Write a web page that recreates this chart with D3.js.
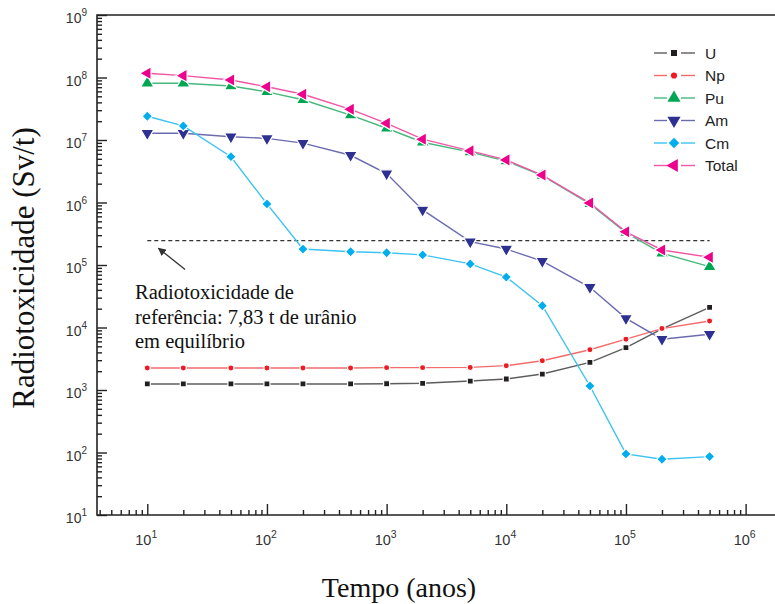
<!DOCTYPE html>
<html>
<head>
<meta charset="utf-8">
<script src="https://cdn.jsdelivr.net/npm/d3@7"></script>
<style>
  body { margin: 0; background: #fff; }
  svg { display: block; }
</style>
</head>
<body>
<div id="mychart"></div>
<script>
// data
var years = [10, 20, 50, 100, 200, 500, 1000, 2000, 5000, 1e4, 2e4, 5e4, 1e5, 2e5, 5e5];

var uValues     = [1250, 1250, 1250, 1250, 1250, 1250, 1260, 1280, 1390, 1500, 1800, 2770, 4750, 9500, 21000];
var npValues    = [2250, 2250, 2250, 2250, 2250, 2250, 2280, 2280, 2300, 2450, 2940, 4400, 6500, 9600, 12700];
var puValues    = [8.1e7, 8.1e7, 7.3e7, 5.9e7, 4.4e7, 2.5e7, 1.54e7, 9.2e6, 6.4e6, 4.6e6, 2.7e6, 9.5e5, 3.3e5, 1.54e5, 9.4e4];
var amValues    = [1.28e7, 1.28e7, 1.13e7, 1.06e7, 8.9e6, 5.7e6, 2.9e6, 7.6e5, 2.36e5, 1.8e5, 1.15e5, 4.4e4, 1.4e4, 6.5e3, 7.8e3];
var cmValues    = [2.4e7, 1.68e7, 5.4e6, 9.5e5, 1.8e5, 1.63e5, 1.57e5, 1.45e5, 1.04e5, 6.4e4, 2.23e4, 1160, 95, 78, 86];
var totalValues = [1.17e8, 1.07e8, 9.1e7, 7.1e7, 5.4e7, 3.1e7, 1.85e7, 1.03e7, 6.7e6, 4.8e6, 2.75e6, 9.8e5, 3.4e5, 1.74e5, 1.33e5];

var seriesNames = ["U", "Np", "Pu", "Am", "Cm", "Total"];
var referenceLevel = 2.45e5;   // 7,83 t de urânio em equilíbrio
var arrowFrom = [20.7, 8.5e4], arrowTo = [12.4, 1.85e5];

var xMajor = [10, 100, 1000, 1e4, 1e5, 1e6];
var yMajor = [10, 100, 1000, 1e4, 1e5, 1e6, 1e7, 1e8, 1e9];

var series = [
  {name: "U",     values: uValues,     line: "#5d5d5f", fill: "#231f20", shape: "square"},
  {name: "Np",    values: npValues,    line: "#f26b6b", fill: "#ed1c24", shape: "circle"},
  {name: "Pu",    values: puValues,    line: "#45b97c", fill: "#00a651", shape: "up"},
  {name: "Am",    values: amValues,    line: "#6b6bb0", fill: "#2e3192", shape: "down"},
  {name: "Cm",    values: cmValues,    line: "#3cc3f2", fill: "#00aeef", shape: "diamond"},
  {name: "Total", values: totalValues, line: "#f056a6", fill: "#ec008c", shape: "left"}
];

var W = 775, H = 604;
var plot = {left: 97, right: 775, top: 15, bottom: 515};

var svg = d3.select("#mychart")
  .append("svg")
    .attr("width", W)
    .attr("height", H);

var x = d3.scaleLog()
  .domain([3.8, 1.76e6])
  .range([plot.left, plot.right]);
var y = d3.scaleLog()
  .domain([10, 1e9])
  .range([plot.bottom, plot.top]);

// minor tick values
function minors(lo, hi) {
  var out = [];
  for (var e = Math.floor(Math.log10(lo)); e <= Math.log10(hi); e++) {
    for (var k = 2; k <= 9; k++) {
      var v = k * Math.pow(10, e);
      if (v > lo && v < hi) out.push(v);
    }
  }
  return out;
}
var xDom = x.domain(), yDom = y.domain();

// axes (ticks point inward)
var axisColor = "#222";
var gx = svg.append("g").attr("transform", "translate(0," + plot.bottom + ")");
gx.call(d3.axisTop(x).tickValues(minors(xDom[0], xDom[1])).tickSize(5).tickFormat(""));
gx.append("g").call(d3.axisTop(x).tickValues(xMajor).tickSize(11).tickFormat(""));
var gy = svg.append("g").attr("transform", "translate(" + plot.left + ",0)");
gy.call(d3.axisRight(y).tickValues(minors(yDom[0], yDom[1])).tickSize(5).tickFormat(""));
gy.append("g").call(d3.axisRight(y).tickValues(yMajor).tickSize(10).tickFormat(""));

svg.selectAll(".domain").remove();
svg.selectAll(".tick line").attr("stroke", axisColor).attr("stroke-width", 1.4);

// frame: left, bottom, top
svg.append("path")
  .attr("d", "M" + plot.right + "," + plot.top + "H" + plot.left + "V" + plot.bottom + "H" + plot.right)
  .attr("fill", "none")
  .attr("stroke", axisColor)
  .attr("stroke-width", 1.6);

// tick labels
var labelFont = "Liberation Sans, Arial, sans-serif";
var ylab = svg.append("g").selectAll("text")
  .data(yMajor)
  .enter().append("text")
    .attr("x", 87)
    .attr("y", function(d) { return y(d) + 8; })
    .attr("text-anchor", "end")
    .attr("font-family", labelFont)
    .attr("font-size", 14)
    .attr("fill", "#333");
ylab.append("tspan").text("10");
ylab.append("tspan")
  .attr("dy", -7)
  .attr("font-size", 10)
  .text(function(d) { return Math.round(Math.log10(d)); });

var xlab = svg.append("g").selectAll("text")
  .data(xMajor)
  .enter().append("text")
    .attr("x", function(d) { return x(d) - 1; })
    .attr("y", plot.bottom + 30)
    .attr("text-anchor", "middle")
    .attr("font-family", labelFont)
    .attr("font-size", 14.5)
    .attr("fill", "#333");
xlab.append("tspan").text("10");
xlab.append("tspan")
  .attr("dy", -7)
  .attr("font-size", 10.5)
  .text(function(d) { return Math.round(Math.log10(d)); });

// axis titles
var serif = "Liberation Serif, 'Times New Roman', serif";
svg.append("text")
  .attr("transform", "translate(34,268) rotate(-90)")
  .attr("text-anchor", "middle")
  .attr("font-family", serif)
  .attr("font-size", 31)
  .attr("fill", "#111")
  .text("Radiotoxicidade (Sv/t)");
svg.append("text")
  .attr("x", 399)
  .attr("y", 597)
  .attr("text-anchor", "middle")
  .attr("font-family", serif)
  .attr("font-size", 28)
  .attr("fill", "#111")
  .text("Tempo (anos)");

// reference line + annotation
svg.append("line")
  .attr("x1", x(years[0]))
  .attr("x2", x(years[years.length - 1]))
  .attr("y1", y(referenceLevel))
  .attr("y2", y(referenceLevel))
  .attr("stroke", "#333")
  .attr("stroke-width", 1.2)
  .attr("stroke-dasharray", "4,3");

svg.append("defs").append("marker")
  .attr("id", "arrowhead")
  .attr("viewBox", "0 0 10 10")
  .attr("refX", 9).attr("refY", 5)
  .attr("markerWidth", 8).attr("markerHeight", 8)
  .attr("markerUnits", "userSpaceOnUse")
  .attr("orient", "auto")
  .append("path")
    .attr("d", "M0,0 L10,5 L0,10 z")
    .attr("fill", "#333");
svg.append("line")
  .attr("x1", x(arrowFrom[0])).attr("y1", y(arrowFrom[1]))
  .attr("x2", x(arrowTo[0])).attr("y2", y(arrowTo[1]))
  .attr("stroke", "#333")
  .attr("stroke-width", 1.3)
  .attr("marker-end", "url(#arrowhead)");

var note = ["Radiotoxicidade de", "referência: 7,83 t de urânio", "em equilíbrio"];
svg.append("g").selectAll("text")
  .data(note)
  .enter().append("text")
    .attr("x", 135)
    .attr("y", function(d, i) { return 299 + i * 24.5; })
    .attr("font-family", serif)
    .attr("font-size", 20.5)
    .attr("fill", "#111")
    .text(function(d) { return d; });

// marker shapes
var symbolFor = {
  square:  d3.symbol().type(d3.symbolSquare).size(36),
  circle:  d3.symbol().type(d3.symbolCircle).size(30),
  up:      d3.symbol().type(d3.symbolTriangle).size(75),
  down:    d3.symbol().type(d3.symbolTriangle).size(75),
  diamond: d3.symbol().type(d3.symbolSquare).size(55),
  left:    d3.symbol().type(d3.symbolTriangle).size(75)
};
var rotateFor = {square: 0, circle: 0, up: 0, down: 180, diamond: 45, left: -90};

var line = d3.line()
  .x(function(d, i) { return x(years[i]); })
  .y(function(d) { return y(d); });

series.forEach(function(s) {
  var g = svg.append("g");
  g.append("path")
    .attr("d", line(s.values))
    .attr("fill", "none")
    .attr("stroke", s.line)
    .attr("stroke-width", 1.4);
  g.selectAll("path.pt")
    .data(s.values)
    .enter().append("path")
      .attr("class", "pt")
      .attr("d", symbolFor[s.shape])
      .attr("transform", function(d, i) {
        return "translate(" + x(years[i]) + "," + y(d) + ") rotate(" + rotateFor[s.shape] + ")";
      })
      .attr("fill", s.fill)
      .attr("stroke", "#fff")
      .attr("stroke-width", 1.2);
});

// legend
var legend = svg.append("g");
var rows = legend.selectAll("g")
  .data(series)
  .enter().append("g")
    .attr("transform", function(d, i) { return "translate(674," + (53 + i * 22.5) + ")"; });
rows.append("line")
  .attr("x1", -20).attr("x2", -7)
  .attr("stroke", function(d) { return d.line; })
  .attr("stroke-width", 1.4);
rows.append("line")
  .attr("x1", 7).attr("x2", 21)
  .attr("stroke", function(d) { return d.line; })
  .attr("stroke-width", 1.4);
rows.append("path")
  .attr("d", function(d) { return symbolFor[d.shape](); })
  .attr("transform", function(d) { return "rotate(" + rotateFor[d.shape] + ")"; })
  .attr("fill", function(d) { return d.fill; });
rows.append("text")
  .attr("x", 31)
  .attr("y", 5.5)
  .attr("font-family", labelFont)
  .attr("font-size", 15.5)
  .attr("fill", "#222")
  .text(function(d) { return d.name; });
</script>
</body>
</html>
